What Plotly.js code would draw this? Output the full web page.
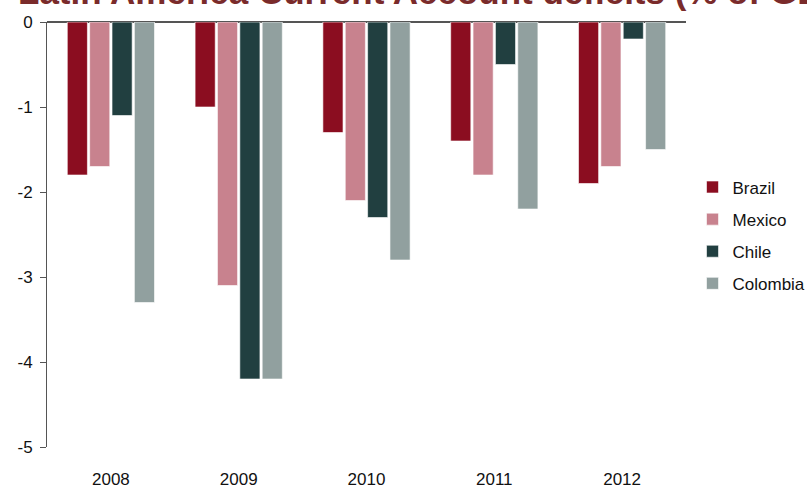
<!DOCTYPE html>
<html><head><meta charset="utf-8">
<script src="https://cdn.plot.ly/plotly-3.0.1.min.js"></script>
<style>html,body{margin:0;padding:0;background:#fff}#chart{width:807px;height:489px}</style>
</head><body><div id="chart"></div>
<script>
const years = ["2008", "2009", "2010", "2011", "2012"];
const brazil = [-1.8, -1.0, -1.3, -1.4, -1.9];
const mexico = [-1.7, -3.1, -2.1, -1.8, -1.7];
const chile = [-1.1, -4.2, -2.3, -0.5, -0.2];
const colombia = [-3.3, -4.2, -2.8, -2.2, -1.5];
const seriesNames = ["Brazil", "Mexico", "Chile", "Colombia"];
const colors = ["#8B0D20", "#C8828E", "#213F40", "#91A09F"];
const yTicks = [0, -1, -2, -3, -4, -5];
const titleText = "Latin America Current Account deficits (% of GDP)";

const font = "Liberation Sans, Arial, sans-serif";
const data = [brazil, mexico, chile, colombia].map((vals, i) => ({
  type: "bar", x: years, y: vals, name: seriesNames[i], legendgroup: "g" + i,
  marker: {color: colors[i], line: {color: "rgba(255,255,255,0.6)", width: 1}}
}));

const layout = {
  width: 807, height: 489,
  margin: {l: 46.5, r: 120.5, t: 22, b: 42, autoexpand: false},
  paper_bgcolor: "#fff", plot_bgcolor: "#fff",
  font: {family: font, size: 17, color: "#111"},
  annotations: [{text: "<b>" + titleText + "</b>", showarrow: false,
    xref: "paper", x: (15 - 46.5) / 640, xanchor: "left",
    yref: "paper", y: 1, yanchor: "bottom", yshift: 8.5,
    font: {family: font, size: 35, color: "#7A2B2B"}}],
  bargap: 0.3, bargroupgap: 0.1, barmode: "group",
  xaxis: {type: "category", showline: false, ticks: "", showgrid: false, zeroline: false,
          ticklabelstandoff: 20, tickfont: {family: font, size: 17, color: "#111"}},
  yaxis: {range: [-5, 0], tickvals: yTicks, ticktext: yTicks.map(String), showgrid: false,
          showline: true, linecolor: "#555", linewidth: 1, ticks: "outside", ticklen: 6, tickcolor: "#555",
          zeroline: true, zerolinecolor: "#555", zerolinewidth: 2, ticklabelstandoff: 4,
          tickfont: {family: font, size: 17, color: "#111"}},
  legend: {x: 1.0102, xanchor: "left", y: 0.653, yanchor: "top", traceorder: "grouped", tracegroupgap: 7,
           font: {family: font, size: 17, color: "#111"}},
  showlegend: true
};
Plotly.newPlot("chart", data, layout, {displayModeBar: false});
</script></body></html>
